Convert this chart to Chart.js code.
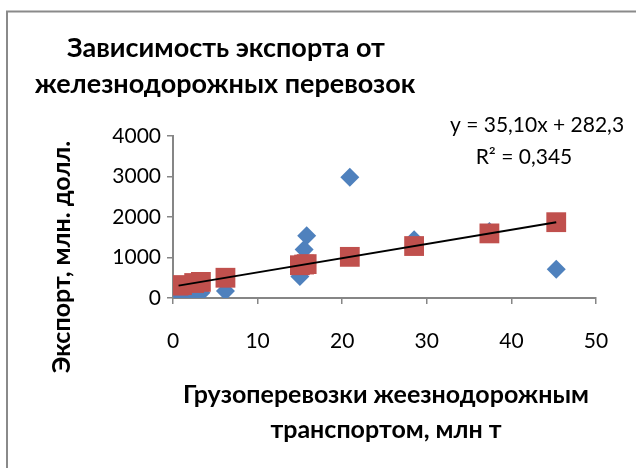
<!DOCTYPE html>
<html>
<head>
<meta charset="utf-8">
<script src="https://cdn.jsdelivr.net/npm/chart.js@4/dist/chart.umd.min.js"></script>
<style>
  html, body { margin: 0; padding: 0; background: #ffffff; }
  canvas { display: block; }
</style>
</head>
<body>
<canvas id="chart" width="636" height="468"></canvas>
<script>
// Rail freight (mln t) against exports (mln USD)
const freightMt     = [0.66, 1.06, 2.5, 3.3, 6.2, 15.0, 15.5, 15.8, 20.9, 28.5, 37.4, 45.3];
const exportMlnUsd  = [300, 40, 70, 130, 170, 530, 1200, 1540, 2980, 1440, 1640, 710];
const fittedMlnUsd  = [305, 319, 370, 398, 500, 809, 826, 837, 1016, 1283, 1595, 1872];

// Linear trend: y = a*x + b
const trendSlope = 35.10;
const trendIntercept = 282.3;
const trendR2 = 0.345;

const xTicks = [0, 10, 20, 30, 40, 50];
const yTicks = [0, 1000, 2000, 3000, 4000];

const titleLines  = ['Зависимость экспорта от', 'железнодорожных перевозок'];
const xTitleLines = ['Грузоперевозки жеезнодорожным', 'транспортом, млн т'];
const yTitle      = 'Экспорт, млн. долл.';

const FONT = "Lato, 'Open Sans', 'Noto Sans', sans-serif";
const AXIS_GREY = '#868686';

const comma = (v, d) => v.toFixed(d).replace('.', ',');
const equationText = 'y = ' + comma(trendSlope, 2) + 'x + ' + comma(trendIntercept, 1);
const r2Text = 'R² = ' + comma(trendR2, 3);

const xMinData = Math.min(...freightMt);
const xMaxData = Math.max(...freightMt);
const trendPoints = [
  { x: xMinData, y: trendSlope * xMinData + trendIntercept },
  { x: xMaxData, y: trendSlope * xMaxData + trendIntercept }
];

const pairs = (xs, ys) => xs.map((x, i) => ({ x: x, y: ys[i] }));

// Frame and free-standing texts
const decorations = {
  id: 'decorations',
  beforeDraw(chart) {
    const ctx = chart.ctx;
    ctx.save();
    ctx.fillStyle = '#ffffff';
    ctx.fillRect(0, 0, chart.width, chart.height);
    ctx.strokeStyle = '#8a8a8a';
    ctx.lineWidth = 2;
    ctx.beginPath();
    ctx.moveTo(7, chart.height);
    ctx.lineTo(7, 11.5);
    ctx.lineTo(chart.width, 11.5);
    ctx.stroke();
    ctx.restore();
  },
  afterDraw(chart) {
    const ctx = chart.ctx;
    ctx.save();
    ctx.fillStyle = '#000000';
    ctx.textAlign = 'center';
    ctx.textBaseline = 'middle';

    ctx.font = 'bold 27px ' + FONT;
    ctx.fillText(titleLines[0], 226, 48);
    ctx.fillText(titleLines[1], 225, 84);

    ctx.font = 'bold 25px ' + FONT;
    ctx.fillText(xTitleLines[0], 386, 395);
    ctx.fillText(xTitleLines[1], 386, 430);

    ctx.save();
    ctx.translate(62, 257);
    ctx.rotate(-Math.PI / 2);
    ctx.fillText(yTitle, 0, 0);
    ctx.restore();

    ctx.font = '21px ' + FONT;
    ctx.fillText(equationText, 537, 125);
    ctx.fillText(r2Text, 524, 157);
    ctx.restore();
  }
};

const axisCommon = {
  type: 'linear',
  grid: {
    display: true,
    drawOnChartArea: false,
    drawTicks: true,
    tickLength: 6,
    color: AXIS_GREY,
    lineWidth: 1.5
  },
  border: { display: true, color: AXIS_GREY, width: 2 }
};

new Chart(document.getElementById('chart'), {
  type: 'scatter',
  data: {
    datasets: [
      {
        type: 'line',
        label: 'trend',
        data: trendPoints,
        borderColor: '#000000',
        borderWidth: 2,
        pointRadius: 0,
        fill: false,
        order: 0
      },
      {
        label: 'fitted',
        data: pairs(freightMt, fittedMlnUsd),
        pointStyle: 'rect',
        pointRadius: 14,
        backgroundColor: '#C0504D',
        borderColor: '#C0504D',
        borderWidth: 0,
        order: 1
      },
      {
        label: 'actual',
        data: pairs(freightMt, exportMlnUsd),
        pointStyle: 'rectRot',
        pointRadius: 9.5,
        backgroundColor: '#4F81BD',
        borderColor: '#4F81BD',
        borderWidth: 0,
        order: 2
      }
    ]
  },
  options: {
    responsive: false,
    animation: false,
    devicePixelRatio: 1,
    layout: { padding: { left: 0, top: 136, right: 40, bottom: 0 } },
    plugins: {
      legend: { display: false },
      title: { display: false },
      tooltip: { enabled: false }
    },
    scales: {
      x: Object.assign({}, axisCommon, {
        min: xTicks[0],
        max: xTicks[xTicks.length - 1],
        afterBuildTicks: (s) => { s.ticks = xTicks.map(v => ({ value: v })); },
        afterFit: (s) => { s.height = 170; },
        ticks: {
          color: '#000000',
          font: { family: FONT, size: 21 },
          padding: 25,
          maxRotation: 0,
          callback: (v) => String(v)
        }
      }),
      y: Object.assign({}, axisCommon, {
        min: yTicks[0],
        max: yTicks[yTicks.length - 1],
        afterBuildTicks: (s) => { s.ticks = yTicks.map(v => ({ value: v })); },
        afterFit: (s) => { s.width = 173; },
        ticks: {
          color: '#000000',
          font: { family: FONT, size: 21 },
          padding: 6,
          callback: (v) => String(v)
        }
      })
    }
  },
  plugins: [decorations]
});
</script>
</body>
</html>
